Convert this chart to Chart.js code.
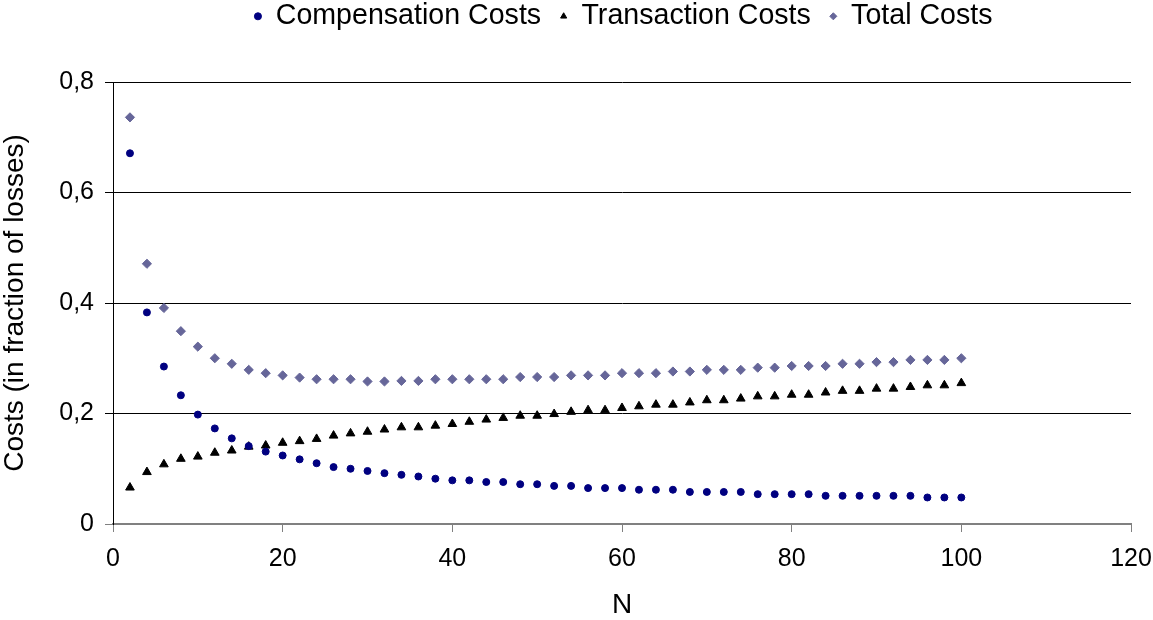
<!DOCTYPE html>
<html>
<head>
<meta charset="utf-8">
<script src="https://cdn.jsdelivr.net/npm/chart.js@4/dist/chart.umd.min.js"></script>
<style>
  html, body { margin: 0; padding: 0; background: #fff; }
  #wrap { width: 1153px; height: 620px; position: relative; }
</style>
</head>
<body>
<div id="wrap"><canvas id="chart"></canvas></div>
<script>
// N values on the x axis
const nValues = [2, 4, 6, 8, 10, 12, 14, 16, 18, 20, 22, 24, 26, 28, 30, 32, 34, 36, 38, 40,
  42, 44, 46, 48, 50, 52, 54, 56, 58, 60, 62, 64, 66, 68, 70, 72, 74, 76, 78, 80,
  82, 84, 86, 88, 90, 92, 94, 96, 98, 100];

// Costs (fraction of losses)
const compensationCosts = [0.671, 0.383, 0.285, 0.233, 0.198, 0.173, 0.155, 0.141, 0.131, 0.124,
  0.117, 0.110, 0.103, 0.100, 0.096, 0.092, 0.089, 0.086, 0.082, 0.079,
  0.079, 0.076, 0.076, 0.072, 0.072, 0.069, 0.069, 0.065, 0.065, 0.065,
  0.062, 0.062, 0.062, 0.058, 0.058, 0.058, 0.058, 0.054, 0.054, 0.054,
  0.054, 0.051, 0.051, 0.051, 0.051, 0.051, 0.051, 0.048, 0.048, 0.048];

const transactionCosts = [0.066, 0.094, 0.108, 0.118, 0.122, 0.129, 0.133, 0.140, 0.142, 0.147,
  0.150, 0.154, 0.160, 0.164, 0.167, 0.171, 0.175, 0.175, 0.178, 0.181,
  0.185, 0.189, 0.192, 0.196, 0.196, 0.199, 0.203, 0.206, 0.206, 0.210,
  0.213, 0.216, 0.216, 0.220, 0.224, 0.224, 0.227, 0.231, 0.231, 0.234,
  0.234, 0.238, 0.241, 0.241, 0.245, 0.245, 0.248, 0.251, 0.251, 0.255];

const totalCosts = [0.736, 0.471, 0.391, 0.349, 0.321, 0.300, 0.290, 0.279, 0.273, 0.269,
  0.265, 0.262, 0.262, 0.262, 0.258, 0.258, 0.259, 0.259, 0.262, 0.262,
  0.262, 0.262, 0.262, 0.266, 0.266, 0.266, 0.269, 0.269, 0.269, 0.273,
  0.273, 0.273, 0.276, 0.276, 0.279, 0.279, 0.279, 0.283, 0.283, 0.286,
  0.286, 0.286, 0.290, 0.290, 0.293, 0.293, 0.297, 0.297, 0.297, 0.300];

const seriesNames = ['Compensation Costs', 'Transaction Costs', 'Total Costs'];
const xTitle = 'N';
const yTitle = 'Costs (in fraction of losses)';

const FONT = '"Liberation Sans", Arial, sans-serif';

function toPoints(values) {
  return nValues.map((n, i) => ({ x: n, y: values[i] }));
}

// pousse la légende pour la centrer comme dans l'original
const legendPlacer = {
  id: 'legendPlacer',
  beforeInit(chart) {
    const origFit = chart.legend.fit;
    chart.legend.fit = function () {
      origFit.call(this);
      this.height = 82;
    };
  },
  afterLayout(chart) {
    const lg = chart.legend;
    lg.left += 47;
    lg.right += 47;
    lg.top = -17;
  }
};

document.addEventListener('DOMContentLoaded', () => {
  const ctx = document.getElementById('chart').getContext('2d');
  new Chart(ctx, {
    type: 'scatter',
    data: {
      datasets: [
        { label: seriesNames[0], data: toPoints(compensationCosts), pointStyle: 'circle',
          backgroundColor: '#000080', borderColor: '#000080', pointRadius: 3.5, pointBorderWidth: 1 },
        { label: seriesNames[1], data: toPoints(transactionCosts), pointStyle: 'triangle',
          backgroundColor: '#000000', borderColor: '#000000', pointRadius: 5, pointBorderWidth: 1 },
        { label: seriesNames[2], data: toPoints(totalCosts), pointStyle: 'rectRot',
          backgroundColor: '#666699', borderColor: '#666699', pointRadius: 4.6, pointBorderWidth: 1 }
      ]
    },
    options: {
      responsive: true,
      maintainAspectRatio: false,
      animation: false,
      layout: { padding: { left: 0, right: 0, top: 0, bottom: 0 } },
      plugins: {
        tooltip: { enabled: false },
        legend: {
          position: 'top',
          labels: {
            usePointStyle: true,
            boxWidth: 7,
            boxHeight: 5,
            padding: 19,
            color: '#000',
            font: { family: FONT, size: 28.6 }
          }
        }
      },
      scales: {
        x: {
          type: 'linear',
          min: 0,
          max: 120,
          afterFit: s => { s.height = 96; s.paddingRight = 22; },
          ticks: { stepSize: 20, color: '#000', padding: 12, font: { family: FONT, size: 25 } },
          grid: { drawOnChartArea: false, drawTicks: true, tickLength: 8, color: '#808080', lineWidth: 1 },
          border: { color: '#808080', width: 2 },
          title: { display: true, text: xTitle, color: '#000', padding: { top: 0, bottom: 1 },
                   font: { family: FONT, size: 28, lineHeight: 1 } }
        },
        y: {
          min: 0,
          max: 0.8,
          afterFit: s => { s.width = 113; },
          ticks: {
            stepSize: 0.2, color: '#000', padding: 11, font: { family: FONT, size: 25 },
            callback: v => v === 0 ? '0' : v.toFixed(1).replace('.', ',')
          },
          grid: {
            tickLength: 8,
            lineWidth: 1,
            color: c => (c.tick && c.tick.value === 0) ? '#808080' : '#000000'
          },
          border: { color: '#000000', width: 1 },
          title: { display: true, text: yTitle, color: '#000', padding: { top: 1, bottom: 0 },
                   font: { family: FONT, size: 28, lineHeight: 1 } }
        }
      }
    },
    plugins: [legendPlacer]
  });
});
</script>
</body>
</html>
